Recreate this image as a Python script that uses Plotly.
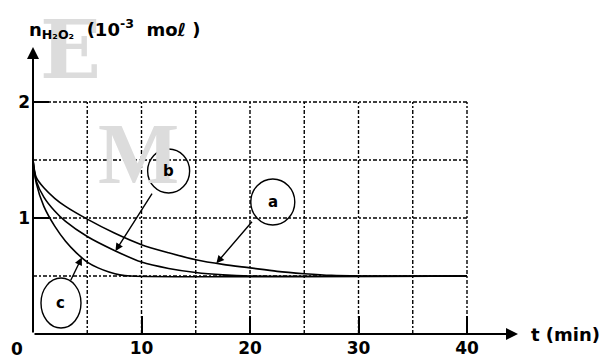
import numpy as np
import plotly.graph_objects as go

# ---- data ----
t_a = [0, 0.3, 1, 2, 3, 5, 7.5, 10, 12.5, 15, 17.5, 20, 22.5, 25, 27.5, 30, 40]
n_a = [1.5, 1.35, 1.26, 1.17, 1.10, 0.99, 0.87, 0.77, 0.70, 0.64, 0.60, 0.57, 0.54, 0.52, 0.505, 0.5, 0.5]

t_b = [0, 0.3, 1, 2, 3, 5, 7.5, 10, 12.5, 15, 17.5, 20, 40]
n_b = [1.5, 1.32, 1.18, 1.06, 0.97, 0.84, 0.72, 0.62, 0.565, 0.53, 0.51, 0.5, 0.5]

t_c = [0, 0.3, 1, 2, 3, 4, 5, 6, 7, 8, 9, 40]
n_c = [1.5, 1.30, 1.10, 0.93, 0.80, 0.70, 0.62, 0.57, 0.535, 0.51, 0.5, 0.5]

x_ticks = [10, 20, 30, 40]
x_tick_labels = ["10", "20", "30", "40"]
y_ticks = [1, 2]
y_tick_labels = ["1", "2"]
grid_x = [5, 10, 15, 20, 25, 30, 35, 40]
grid_y = [0.5, 1, 1.5, 2]

# ---- layout geometry ----
W, H = 604, 358
ML, MR, MT, MB = 33, 86, 47, 24
XMAX = 44.7
YMAX = 2.474
pw, ph = W - ML - MR, H - MT - MB


def px(xp, yp):
    """pixel -> paper coordinates"""
    return (xp - ML) / pw, (H - MB - yp) / ph


fig = go.Figure()
for tt, nn in [(t_a, n_a), (t_b, n_b), (t_c, n_c)]:
    fig.add_trace(go.Scatter(x=tt, y=nn, mode="lines",
                             line=dict(color="black", width=1.6, shape="spline", smoothing=0.8),
                             showlegend=False, hoverinfo="skip"))

shapes = []
dash = "4px,2px,2px,2px"
for gx in grid_x:
    shapes.append(dict(type="line", xref="x", yref="y", x0=gx, x1=gx, y0=0, y1=max(grid_y),
                       line=dict(color="black", width=1.4, dash=dash), layer="below"))
for gy in grid_y:
    shapes.append(dict(type="line", xref="x", yref="y", x0=0, x1=max(grid_x), y0=gy, y1=gy,
                       line=dict(color="black", width=1.4, dash=dash), layer="below"))

# label circles (centre in data units, radii in pixels)
labels = {"a": (22.1, 1.138, 22, 23), "b": (12.5, 1.405, 21, 22), "c": (2.58, 0.267, 20, 25)}
for k, (cx, cy, rx, ry) in labels.items():
    shapes.append(dict(type="circle", xref="x", yref="y", xsizemode="pixel", ysizemode="pixel",
                       xanchor=cx, yanchor=cy, x0=-rx, x1=rx, y0=-ry, y1=ry,
                       line=dict(color="black", width=1.4), fillcolor="rgba(255,255,255,0)"))

ann = []

# watermark letters (drawn first, behind everything else)
for letter, (xp, yp), size, fam in [("E", (70, 50), 80, "DejaVu Serif"),
                                     ("M", (138, 154), 86, "Liberation Serif")]:
    x_, y_ = px(xp, yp)
    ann.append(dict(x=x_, y=y_, xref="paper", yref="paper", xanchor="center", yanchor="middle",
                    text="<b>%s</b>" % letter, showarrow=False,
                    font=dict(family=fam, size=size, color="#dcdcdc")))

for k, (cx, cy, rx, ry) in labels.items():
    ann.append(dict(x=cx, y=cy, xref="x", yref="y", xanchor="center", yanchor="middle",
                    text="<b>%s</b>" % k, showarrow=False,
                    font=dict(family="DejaVu Sans", size=15, color="black")))

# pointer arrows from circles to the curves
pointers = [("a", t_a, n_a, 16.9, (20.3, 0.98)),
            ("b", t_b, n_b, 7.6, (11.06, 1.224)),
            ("c", t_c, n_c, 4.5, (3.4, 0.448))]
for k, tt, nn, ttip, (tx, ty) in pointers:
    ytip = float(np.interp(ttip, tt, nn))
    ann.append(dict(x=ttip, y=ytip, ax=tx, ay=ty, xref="x", yref="y", axref="x", ayref="y",
                    text="", showarrow=True, arrowhead=2, arrowsize=1.1, arrowwidth=1.4,
                    arrowcolor="black"))

# axes as arrows
ann.append(dict(x=XMAX, y=0, ax=0, ay=0, xref="x", yref="y", axref="x", ayref="y", text="",
                showarrow=True, arrowhead=2, arrowsize=1.2, arrowwidth=2, arrowcolor="black"))
ann.append(dict(x=0, y=YMAX, ax=0, ay=0, xref="x", yref="y", axref="x", ayref="y", text="",
                showarrow=True, arrowhead=2, arrowsize=1.2, arrowwidth=2, arrowcolor="black"))

# texts
lbl_font = dict(family="DejaVu Sans", size=17, color="black")
x_, y_ = px(17, 349)
ann.append(dict(x=x_, y=y_, xref="paper", yref="paper", xanchor="center", yanchor="middle",
                text="<b>0</b>", showarrow=False, font=lbl_font))
x_, y_ = px(529, 334)
ann.append(dict(x=x_, y=y_, xref="paper", yref="paper", xanchor="left", yanchor="middle",
                text="<b>t (min)</b>", showarrow=False,
                font=dict(family="DejaVu Sans", size=18, color="black")))
x_, y_ = px(27, 29)
ann.append(dict(x=x_, y=y_, xref="paper", yref="paper", xanchor="left", yanchor="middle",
                text="<b>n<sub>H₂O₂</sub>  (10<sup>-3</sup>  moℓ )</b>",
                showarrow=False,
                font=dict(family="DejaVu Sans", size=18, color="black")))

fig.update_layout(
    width=W, height=H, margin=dict(l=ML, r=MR, t=MT, b=MB, autoexpand=False),
    paper_bgcolor="white", plot_bgcolor="white",
    shapes=shapes, annotations=ann,
    xaxis=dict(range=[0, XMAX], showgrid=False, zeroline=False, showline=False, automargin=False,
               tickvals=x_ticks, ticktext=["<b>%s</b>" % s for s in x_tick_labels],
               ticks="inside", ticklen=18, tickwidth=1.6, tickcolor="black",
               tickfont=lbl_font, ticklabelstandoff=2),
    yaxis=dict(range=[0, YMAX], showgrid=False, zeroline=False, showline=False, automargin=False,
               tickvals=y_ticks, ticktext=["<b>%s</b>" % s for s in y_tick_labels],
               ticks="inside", ticklen=16, tickwidth=1.6, tickcolor="black",
               tickfont=lbl_font, ticklabelstandoff=2),
)
fig.write_html("out.html", config={"displayModeBar": False},
               post_script="document.body.style.margin='0px';")
